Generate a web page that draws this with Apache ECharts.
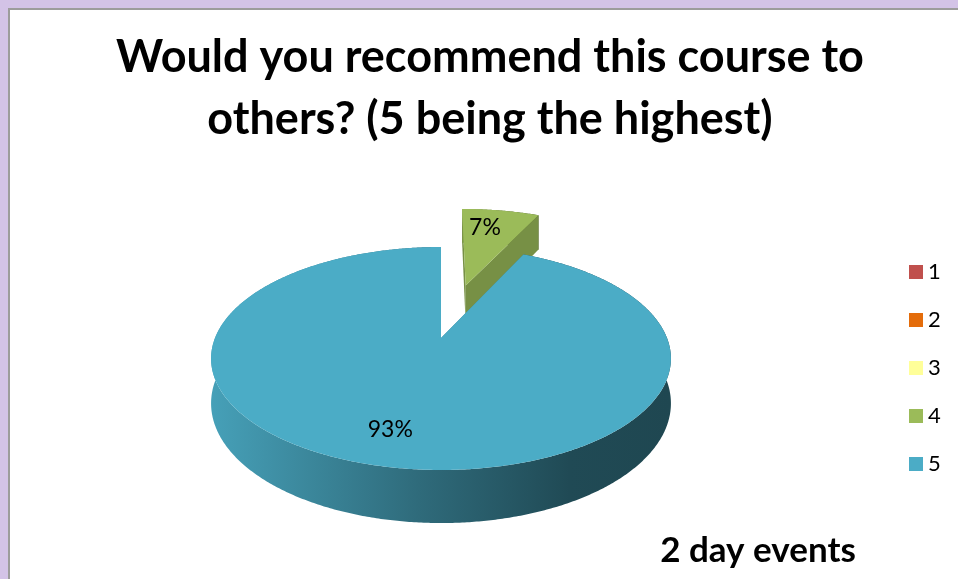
<!DOCTYPE html>
<html><head><meta charset="utf-8">
<script src="https://cdn.jsdelivr.net/npm/echarts@6/dist/echarts.min.js"></script>
<style>html,body{margin:0;padding:0;background:#fff}#c{width:958px;height:579px}</style>
</head><body><div id="c"></div>
<script>
// ---- data ----
const categories = ['1', '2', '3', '4', '5'];
const values = [0, 0, 0, 7, 93];
const titleLines = ['Would you recommend this course to', 'others? (5 being the highest)'];
const footnote = '2 day events';
const explodedCategories = ['4'];

// ---- styles ----
const palette = ['#c0504d', '#e46c0a', '#ffff99', '#9bbb59', '#4bacc6'];
const FONT = 'Lato, "Open Sans", sans-serif';
// 3D projection parameters (pixel geometry of the pie)
const P = { cx: 441, cy: 338, s: 226, sinT: 0.4766, cosT: 0.879, D: 4.78, h: 0.218, explode: 0.55, labelR: 0.75 };

// perspective taken from the position on the disc plane; walls drop vertically on screen
function proj(X, Y, Z) {
  const yv = Y * P.cosT + Z * P.sinT;
  const zv = Z * P.cosT;
  const k = 1 / (1 + zv / P.D);
  return [P.cx + P.s * X * k, P.cy - P.s * yv * k];
}
function shade(hex, f) {
  const n = parseInt(hex.slice(1), 16);
  const r = Math.round(((n >> 16) & 255) * f), g = Math.round(((n >> 8) & 255) * f), b = Math.round((n & 255) * f);
  return 'rgb(' + r + ',' + g + ',' + b + ')';
}
const total = values.reduce((a, b) => a + b, 0);

function renderItem(params, api) {
  const i = params.dataIndex;
  const v = api.value(0);
  if (!v) return null;
  let before = 0;
  for (let j = 0; j < i; j++) before += values[j];
  const a0 = before / total * Math.PI * 2;
  const a1 = (before + v) / total * Math.PI * 2;
  const mid = (a0 + a1) / 2;
  const ex = explodedCategories.indexOf(categories[i]) >= 0 ? P.explode : 0;
  const ox = ex * Math.sin(mid), oz = ex * Math.cos(mid);
  const rim = (a, Y) => proj(ox + Math.sin(a), Y, oz + Math.cos(a));
  const apex = Y => proj(ox, Y, oz);
  const n = Math.max(2, Math.ceil((a1 - a0) / (Math.PI / 360)));
  const top = [], bot = [];
  for (let k = 0; k <= n; k++) {
    const a = a0 + (a1 - a0) * k / n;
    top.push(rim(a, 0));
    bot.push(rim(a, -P.h));
  }
  const base = palette[i];
  const wallFill = new echarts.graphic.LinearGradient(0, 0, 1, 0, [
    { offset: 0, color: shade(base, 0.93) },
    { offset: 0.45, color: shade(base, 0.62) },
    { offset: 0.78, color: shade(base, 0.43) },
    { offset: 1, color: shade(base, 0.41) }
  ]);
  const children = [];
  children.push({ type: 'polygon', shape: { points: top.concat(bot.slice().reverse()) }, style: { fill: wallFill } });
  [a0, a1].forEach(a => {
    children.push({ type: 'polygon', shape: { points: [apex(0), rim(a, 0), rim(a, -P.h), apex(-P.h)] }, style: { fill: shade(base, 0.77) } });
  });
  children.push({ type: 'polygon', shape: { points: [apex(0)].concat(top) }, style: { fill: base } });
  const lp = proj(ox + P.labelR * Math.sin(mid), 0, oz + P.labelR * Math.cos(mid));
  children.push({
    type: 'text', z2: 10,
    style: {
      text: Math.round(v / total * 100) + '%', x: lp[0] - 8, y: lp[1],
      textAlign: 'center', textVerticalAlign: 'middle', align: 'center', verticalAlign: 'middle',
      fontSize: 23, fontFamily: FONT, fill: '#000'
    }
  });
  return { type: 'group', children: children };
}

const chart = echarts.init(document.getElementById('c'));
chart.setOption({
  animation: false,
  backgroundColor: '#fff',
  color: palette,
  legend: {
    orient: 'vertical', left: 904, top: 256,
    itemWidth: 14, itemHeight: 14, itemGap: 26,
    icon: 'rect',
    data: categories,
    textStyle: { fontSize: 22, fontFamily: FONT, color: '#000' }
  },
  graphic: {
    elements: [
      { type: 'rect', z: -10, silent: true, shape: { x: 0, y: 0, width: 958, height: 579 }, style: { fill: '#d3c3e7' } },
      { type: 'rect', z: -9, silent: true, shape: { x: 8, y: 8, width: 950, height: 571 }, style: { fill: '#9c9c9c' } },
      { type: 'rect', z: -8, silent: true, shape: { x: 10, y: 10, width: 948, height: 569 }, style: { fill: '#ffffff' } },
      { type: 'text', z: 5, style: { text: titleLines[0], x: 490, y: 57, textAlign: 'center', textVerticalAlign: 'middle', align: 'center', verticalAlign: 'middle', font: 'bold 45px ' + FONT, fill: '#000' } },
      { type: 'text', z: 5, style: { text: titleLines[1], x: 490, y: 119, textAlign: 'center', textVerticalAlign: 'middle', align: 'center', verticalAlign: 'middle', font: 'bold 45px ' + FONT, fill: '#000' } },
      { type: 'text', z: 5, style: { text: footnote, x: 758, y: 551, textAlign: 'center', textVerticalAlign: 'middle', align: 'center', verticalAlign: 'middle', font: 'bold 35px ' + FONT, fill: '#000' } }
    ]
  },
  series: [
    {
      type: 'pie', radius: [0, 0], center: [441, 338], silent: true,
      label: { show: false }, labelLine: { show: false }, emphasis: { disabled: true },
      data: categories.map((c, i) => ({ name: c, value: values[i] }))
    },
    {
      type: 'custom', coordinateSystem: 'none', silent: true, z: 3,
      renderItem: renderItem,
      data: values
    }
  ]
});
</script></body></html>
